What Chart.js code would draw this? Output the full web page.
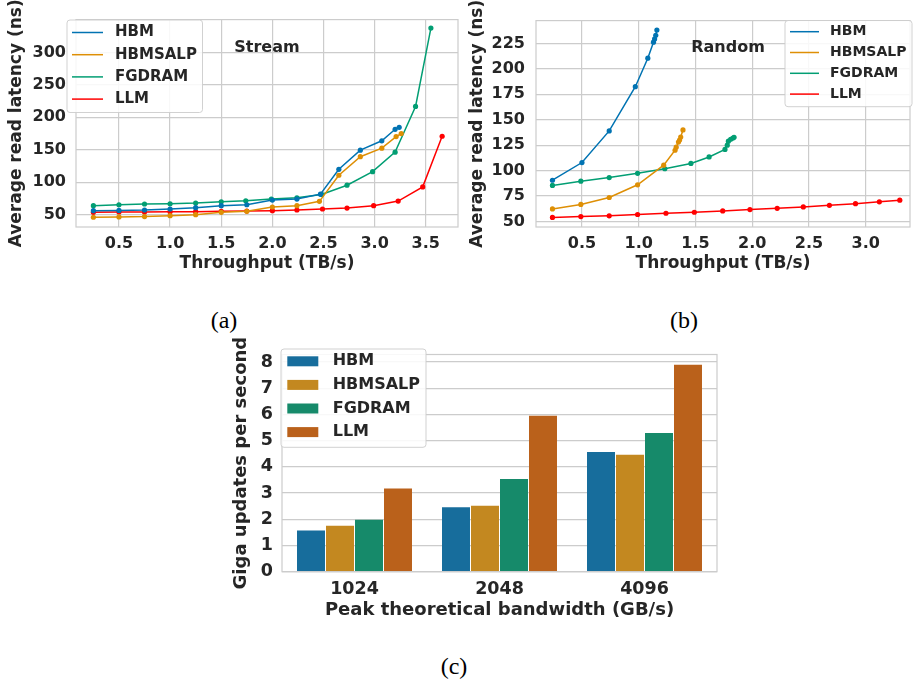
<!DOCTYPE html>
<html lang="en">
<head>
  <meta charset="UTF-8">
  <title>Read latency and GUPS</title>
  <script src="https://cdn.jsdelivr.net/npm/chart.js"></script>
  <style>
    body { margin: 0; background: #FFFFFF; }
    #fig { position: relative; width: 914px; height: 681px; overflow: hidden; }
    .panel { position: absolute; }
    .caption { position: absolute; font-family: "Liberation Serif", serif; font-size: 24px; color: #000; transform: translate(-50%, -50%); }
  </style>
</head>
<body>
  <div id="fig">
    <div class="panel" style="left:0;top:0;width:462px;height:275px"><canvas id="graficoA"></canvas></div>
    <div class="panel" style="left:462px;top:0;width:452px;height:275px"><canvas id="graficoB"></canvas></div>
    <div class="panel" style="left:225px;top:335px;width:500px;height:290px"><canvas id="graficoC"></canvas></div>
    <div class="caption" style="left:224px;top:320px">(a)</div>
    <div class="caption" style="left:684px;top:320px">(b)</div>
    <div class="caption" style="left:454px;top:666px">(c)</div>
  </div>

  <script>
    const series = ["HBM", "HBMSALP", "FGDRAM", "LLM"];

    // (a) Stream
    const streamHbmX = [0.25, 0.5, 0.75, 1.0, 1.25, 1.5, 1.75, 2.0, 2.24, 2.47, 2.65, 2.86, 3.07, 3.2, 3.24];
    const streamHbmY = [56.1, 56.6, 57.2, 58.7, 60.7, 63.8, 65.3, 72.5, 74, 81.6, 119.9, 149.4, 163.8, 181.5, 184.6];
    const streamSalpX = [0.25, 0.5, 0.75, 1.0, 1.25, 1.5, 1.75, 2.0, 2.24, 2.46, 2.65, 2.86, 3.07, 3.21, 3.26];
    const streamSalpY = [46, 46.5, 47, 48.5, 50, 53.6, 55.1, 61.8, 63.8, 70.5, 110.7, 139.3, 152.4, 170.3, 174.9];
    const streamFgX = [0.25, 0.5, 0.75, 1.0, 1.25, 1.5, 1.74, 1.99, 2.24, 2.48, 2.73, 2.98, 3.2, 3.4, 3.55];
    const streamFgY = [63.8, 65.3, 66.4, 66.8, 67.9, 69.9, 71.4, 74, 76, 81.2, 95.4, 116.3, 146.3, 216.7, 337.5];
    const streamLlmX = [0.25, 0.5, 0.75, 1.0, 1.25, 1.5, 1.75, 2.0, 2.24, 2.49, 2.73, 2.99, 3.23, 3.47, 3.66];
    const streamLlmY = [53.6, 54.1, 54.1, 54.6, 54.6, 55.1, 55.6, 56.1, 57.2, 58.7, 60.2, 63.8, 70.9, 92.8, 170.8];
    const streamXTicks = [0.5, 1.0, 1.5, 2.0, 2.5, 3.0, 3.5];
    const streamYTicks = [50, 100, 150, 200, 250, 300];

    // (b) Random
    const randHbmX = [0.24, 0.5, 0.74, 0.97, 1.08, 1.13, 1.14, 1.15, 1.16];
    const randHbmY = [90.5, 107.9, 139, 182.5, 210.5, 226.3, 229.5, 233.1, 238.2];
    const randSalpX = [0.24, 0.49, 0.74, 0.99, 1.22, 1.32, 1.33, 1.35, 1.36, 1.37, 1.39];
    const randSalpY = [62.3, 66.7, 73.5, 86, 105.3, 120, 123, 128, 130, 133, 140];
    const randFgX = [0.24, 0.49, 0.74, 0.99, 1.23, 1.46, 1.62, 1.76, 1.78, 1.79, 1.81, 1.83, 1.84];
    const randFgY = [85.4, 89.6, 93.1, 97.3, 101.8, 107, 113.4, 120.8, 125, 128.9, 130.8, 132, 132.7];
    const randLlmX = [0.24, 0.49, 0.74, 0.99, 1.24, 1.49, 1.74, 1.98, 2.22, 2.45, 2.68, 2.91, 3.12, 3.3];
    const randLlmY = [53.9, 54.8, 55.5, 56.8, 58, 59, 60.3, 61.6, 62.9, 64.2, 65.8, 67.4, 69.3, 70.9];
    const randXTicks = [0.5, 1.0, 1.5, 2.0, 2.5, 3.0];
    const randYTicks = [50, 75, 100, 125, 150, 175, 200, 225];

    // (c) GUPS
    const bandwidths = ["1024", "2048", "4096"];
    const gupsHbm = [1.57, 2.46, 4.57];
    const gupsSalp = [1.75, 2.52, 4.46];
    const gupsFg = [1.98, 3.54, 5.29];
    const gupsLlm = [3.18, 5.95, 7.9];
    const gupsTicks = [0, 1, 2, 3, 4, 5, 6, 7, 8];

    const lineColors = ["#0173b2", "#de8f05", "#029e73", "#ff0000"];
    const barColors = ["#176d9c", "#c38820", "#168a6a", "#ba611b"];
    const textColor = "#262626";
    const gridColor = "#cccccc";
    const fam = '"DejaVu Sans", sans-serif';

    function pontos(xs, ys) {
      return xs.map((x, i) => ({ x: x, y: ys[i] }));
    }

    function serie(i, xs, ys) {
      return {
        label: series[i],
        data: pontos(xs, ys),
        borderColor: lineColors[i],
        backgroundColor: lineColors[i],
        borderWidth: 1.5,
        pointRadius: 2.6,
        pointBorderWidth: 0,
        pointBackgroundColor: lineColors[i],
        tension: 0
      };
    }

    // frame + legend + note
    const moldura = {
      id: "moldura",
      beforeDatasetsDraw(chart) {
        const a = chart.chartArea, ctx = chart.ctx;
        ctx.save();
        ctx.strokeStyle = gridColor;
        ctx.lineWidth = 1.2;
        ctx.strokeRect(a.left, a.top, a.right - a.left, a.bottom - a.top);
        ctx.restore();
      },
      afterDraw(chart, args, o) {
        const ctx = chart.ctx;
        ctx.save();
        ctx.beginPath();
        if (ctx.roundRect) ctx.roundRect(o.box[0], o.box[1], o.box[2], o.box[3], 3);
        else ctx.rect(o.box[0], o.box[1], o.box[2], o.box[3]);
        ctx.fillStyle = "rgba(255,255,255,0.85)";
        ctx.fill();
        ctx.strokeStyle = "rgba(204,204,204,0.9)";
        ctx.lineWidth = 1;
        ctx.stroke();
        ctx.font = "bold " + o.size + "px " + fam;
        ctx.textBaseline = "middle";
        ctx.textAlign = "left";
        chart.data.datasets.forEach((ds, i) => {
          const y = o.rowY + i * o.rowGap;
          if (o.patch) {
            ctx.fillStyle = ds.backgroundColor;
            ctx.fillRect(o.sampleX, y - 5, o.sampleW, 10);
          } else {
            ctx.strokeStyle = ds.borderColor;
            ctx.lineWidth = 1.5;
            ctx.beginPath();
            ctx.moveTo(o.sampleX, y);
            ctx.lineTo(o.sampleX + o.sampleW, y);
            ctx.stroke();
          }
          ctx.fillStyle = textColor;
          ctx.fillText(ds.label, o.textX, y);
        });
        if (o.note) {
          ctx.font = "bold 16px " + fam;
          ctx.textAlign = "center";
          ctx.fillStyle = textColor;
          ctx.fillText(o.note, o.noteX, o.noteY);
        }
        ctx.restore();
      }
    };

    function eixos(cfg) {
      const tickFont = { family: fam, weight: "bold", size: cfg.tickSize };
      const titleFont = { family: fam, weight: "bold", size: cfg.titleSize };
      const x = {
        grid: { display: cfg.xGrid, color: gridColor, lineWidth: 1.2, drawTicks: false },
        border: { display: false },
        afterFit: s => { s.height = cfg.xHeight; },
        ticks: { color: textColor, font: tickFont, padding: 7, autoSkip: false, maxRotation: 0 },
        title: { display: true, text: cfg.xTitle, color: textColor, font: titleFont, padding: { top: 0, bottom: cfg.xTitlePad } }
      };
      if (cfg.xTicks) {
        x.type = "linear";
        x.min = cfg.xMin;
        x.max = cfg.xMax;
        x.afterBuildTicks = s => { s.ticks = cfg.xTicks.map(v => ({ value: v })); };
        x.ticks.callback = v => Number(v).toFixed(1);
      }
      const y = {
        min: cfg.yMin,
        max: cfg.yMax,
        grid: { color: gridColor, lineWidth: 1.2, drawTicks: false },
        border: { display: false },
        afterFit: s => { s.width = cfg.yWidth; },
        afterBuildTicks: s => { s.ticks = cfg.yTicks.map(v => ({ value: v })); },
        ticks: { color: textColor, font: tickFont, padding: cfg.yTickPad, autoSkip: false },
        title: { display: true, text: cfg.yTitle, color: textColor, font: titleFont, padding: { top: cfg.yTitlePad, bottom: 0 } }
      };
      return { x: x, y: y };
    }

    new Chart(document.getElementById("graficoA"), {
      type: "line",
      data: {
        datasets: [
          serie(0, streamHbmX, streamHbmY),
          serie(1, streamSalpX, streamSalpY),
          serie(2, streamFgX, streamFgY),
          serie(3, streamLlmX, streamLlmY)
        ]
      },
      options: {
        responsive: true,
        maintainAspectRatio: false,
        animation: false,
        layout: { padding: { left: 0, top: 17, right: 4, bottom: 0 } },
        plugins: {
          legend: { display: false },
          tooltip: { enabled: false },
          moldura: { box: [67, 20, 135.5, 92.5], rowY: 32.5, rowGap: 22.2, sampleX: 72, sampleW: 31, textX: 115, size: 15, note: "Stream", noteX: 267, noteY: 48 }
        },
        scales: eixos({
          xTicks: streamXTicks, xMin: 0.08, xMax: 3.815, xGrid: true, xHeight: 48, xTitle: "Throughput (TB/s)", xTitlePad: 1,
          yTicks: streamYTicks, yMin: 31, yMax: 350.5, yWidth: 76, yTickPad: 10, yTitle: "Average read latency (ns)", yTitlePad: 6,
          tickSize: 16, titleSize: 17
        })
      },
      plugins: [moldura]
    });

    new Chart(document.getElementById("graficoB"), {
      type: "line",
      data: {
        datasets: [
          serie(0, randHbmX, randHbmY),
          serie(1, randSalpX, randSalpY),
          serie(2, randFgX, randFgY),
          serie(3, randLlmX, randLlmY)
        ]
      },
      options: {
        responsive: true,
        maintainAspectRatio: false,
        animation: false,
        layout: { padding: { left: 0, top: 17, right: 1, bottom: 0 } },
        plugins: {
          legend: { display: false },
          tooltip: { enabled: false },
          moldura: { box: [323, 20.5, 127, 86.2], rowY: 31.7, rowGap: 20.8, sampleX: 328, sampleW: 29, textX: 368, size: 14, note: "Random", noteX: 266, noteY: 48 }
        },
        scales: eixos({
          xTicks: randXTicks, xMin: 0.095, xMax: 3.39, xGrid: true, xHeight: 48, xTitle: "Throughput (TB/s)", xTitlePad: 1,
          yTicks: randYTicks, yMin: 44.5, yMax: 247.5, yWidth: 74, yTickPad: 11, yTitle: "Average read latency (ns)", yTitlePad: 5,
          tickSize: 16, titleSize: 17
        })
      },
      plugins: [moldura]
    });

    const gups = [gupsHbm, gupsSalp, gupsFg, gupsLlm];
    new Chart(document.getElementById("graficoC"), {
      type: "bar",
      data: {
        labels: bandwidths,
        datasets: series.map((s, i) => ({
          label: s,
          data: gups[i],
          backgroundColor: barColors[i],
          borderWidth: 0,
          categoryPercentage: 0.8,
          barPercentage: 0.965
        }))
      },
      options: {
        responsive: true,
        maintainAspectRatio: false,
        animation: false,
        layout: { padding: { left: 0, top: 16.7, right: 8, bottom: 0 } },
        plugins: {
          legend: { display: false },
          tooltip: { enabled: false },
          moldura: { box: [56, 14, 145, 98.3], rowY: 26.3, rowGap: 23.6, sampleX: 62.3, sampleW: 31, textX: 107.7, size: 16, patch: true }
        },
        scales: eixos({
          xGrid: false, xHeight: 53.3, xTitle: "Peak theoretical bandwidth (GB/s)", xTitlePad: 4,
          yTicks: gupsTicks, yMin: 0, yMax: 8.29, yWidth: 57, yTickPad: 9, yTitle: "Giga updates per second", yTitlePad: 6,
          tickSize: 17.5, titleSize: 18
        })
      },
      plugins: [moldura]
    });
  </script>
</body>
</html>
